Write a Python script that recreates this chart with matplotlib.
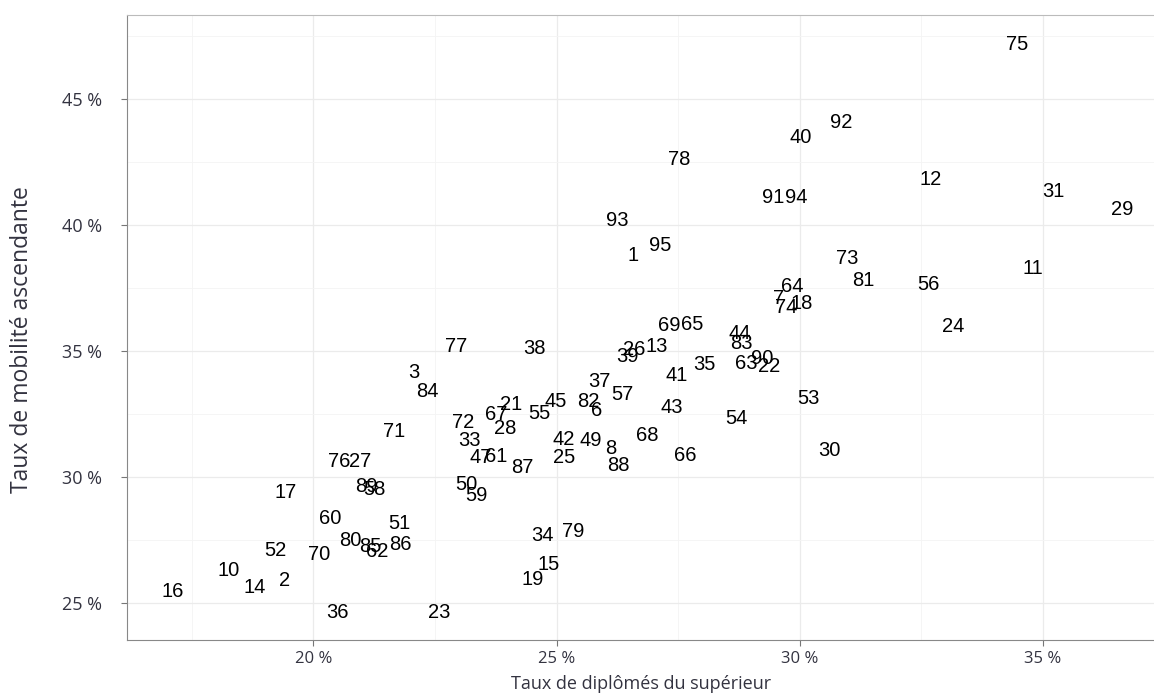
import matplotlib.pyplot as plt
from matplotlib.ticker import FuncFormatter, MultipleLocator

# départements, taux de diplômés du supérieur (%), taux de mobilité ascendante (%)
depts = ["75", "92", "40", "78", "12", "31", "91", "94", "29", "93",
         "95", "1", "73", "11", "81", "56", "64", "7", "18", "74",
         "24", "69", "65", "44", "83", "26", "13", "39", "35", "63",
         "90", "22", "77", "38", "3", "84", "37", "41", "57", "53",
         "45", "82", "6", "21", "67", "55", "43", "54", "72", "28",
         "71", "33", "42", "49", "8", "68", "30", "47", "61", "87",
         "25", "66", "88", "76", "27", "89", "58", "17", "50", "59",
         "60", "51", "34", "79", "80", "85", "86", "62", "52", "70",
         "15", "19", "10", "14", "2", "16", "36", "23"]
diplomes = [34.47, 30.86, 30.01, 27.52, 32.69, 35.21, 29.46, 29.93, 36.63, 26.24,
            27.13, 26.57, 30.98, 34.79, 31.31, 32.65, 29.85, 29.56, 30.03, 29.73,
            33.15, 27.32, 27.79, 28.76, 28.80, 26.59, 27.05, 26.45, 28.04, 28.90,
            29.23, 29.38, 22.93, 24.55, 22.06, 22.35, 25.89, 27.46, 26.35, 30.18,
            24.99, 25.65, 25.83, 24.06, 23.75, 24.64, 27.36, 28.70, 23.09, 23.94,
            21.67, 23.21, 25.15, 25.71, 26.12, 26.86, 30.61, 23.44, 23.77, 24.29,
            25.15, 27.64, 26.28, 20.54, 20.97, 21.09, 21.26, 19.44, 23.15, 23.36,
            20.35, 21.77, 24.72, 25.34, 20.76, 21.17, 21.79, 21.32, 19.22, 20.12,
            24.84, 24.51, 18.27, 18.80, 19.40, 17.12, 20.49, 22.58]
mobilite = [47.18, 44.09, 43.49, 42.62, 41.79, 41.35, 41.11, 41.11, 40.60, 40.20,
            39.17, 38.81, 38.69, 38.29, 37.82, 37.66, 37.58, 37.10, 36.90, 36.71,
            35.99, 36.03, 36.07, 35.71, 35.28, 35.08, 35.20, 34.80, 34.48, 34.52,
            34.72, 34.37, 35.20, 35.12, 34.13, 33.41, 33.81, 34.01, 33.29, 33.10,
            32.98, 32.98, 32.62, 32.86, 32.50, 32.54, 32.74, 32.34, 32.18, 31.94,
            31.79, 31.43, 31.47, 31.43, 31.15, 31.63, 31.07, 30.79, 30.83, 30.36,
            30.79, 30.87, 30.44, 30.60, 30.60, 29.64, 29.52, 29.40, 29.72, 29.25,
            28.37, 28.17, 27.66, 27.82, 27.46, 27.26, 27.34, 27.06, 27.10, 26.94,
            26.51, 25.95, 26.27, 25.63, 25.91, 25.44, 24.64, 24.64]

fig = plt.figure(figsize=(11.54, 6.93), dpi=100)
ax = fig.add_axes([0.110, 0.0765, 0.895, 0.9015])

for lab, x, y in zip(depts, diplomes, mobilite):
    ax.text(x, y, lab, ha="center", va="center", fontsize=14.5,
            family="Liberation Sans", color="black")

ax.set_xlim(16.17, 37.4)
ax.set_ylim(23.53, 48.33)

ax.xaxis.set_major_locator(MultipleLocator(5))
ax.yaxis.set_major_locator(MultipleLocator(5))
ax.xaxis.set_minor_locator(MultipleLocator(2.5))
ax.yaxis.set_minor_locator(MultipleLocator(2.5))
pct = FuncFormatter(lambda v, p: f"{v:.0f} %")
ax.xaxis.set_major_formatter(pct)
ax.yaxis.set_major_formatter(pct)

ax.grid(which="major", color="#ebebeb", linewidth=0.9)
ax.grid(which="minor", color="#f4f4f4", linewidth=0.6)
ax.set_axisbelow(True)
ax.tick_params(which="minor", length=0)
ax.tick_params(which="major", length=4, color="#777777", labelcolor="#333340")
ax.tick_params(axis="y", labelsize=13, pad=14)
ax.tick_params(axis="x", labelsize=12, pad=4)
for t in ax.get_xticklabels() + ax.get_yticklabels():
    t.set_family(["Open Sans", "DejaVu Sans"])

ax.spines["right"].set_visible(False)
ax.spines["top"].set_color("#bbbbbb")
ax.spines["left"].set_color("#888888")
ax.spines["bottom"].set_color("#888888")

fig.text(641 / 1154, 1 - 684 / 693, "Taux de diplômés du supérieur",
         ha="center", va="center", fontsize=13, color="#333340",
         family=["Open Sans", "DejaVu Sans"])
fig.text(22 / 1154, 1 - 340 / 693, "Taux de mobilité ascendante",
         ha="center", va="center", rotation=90, fontsize=16.5, color="#333340",
         family=["Open Sans", "DejaVu Sans"])

fig.savefig("out.png", dpi=100)
